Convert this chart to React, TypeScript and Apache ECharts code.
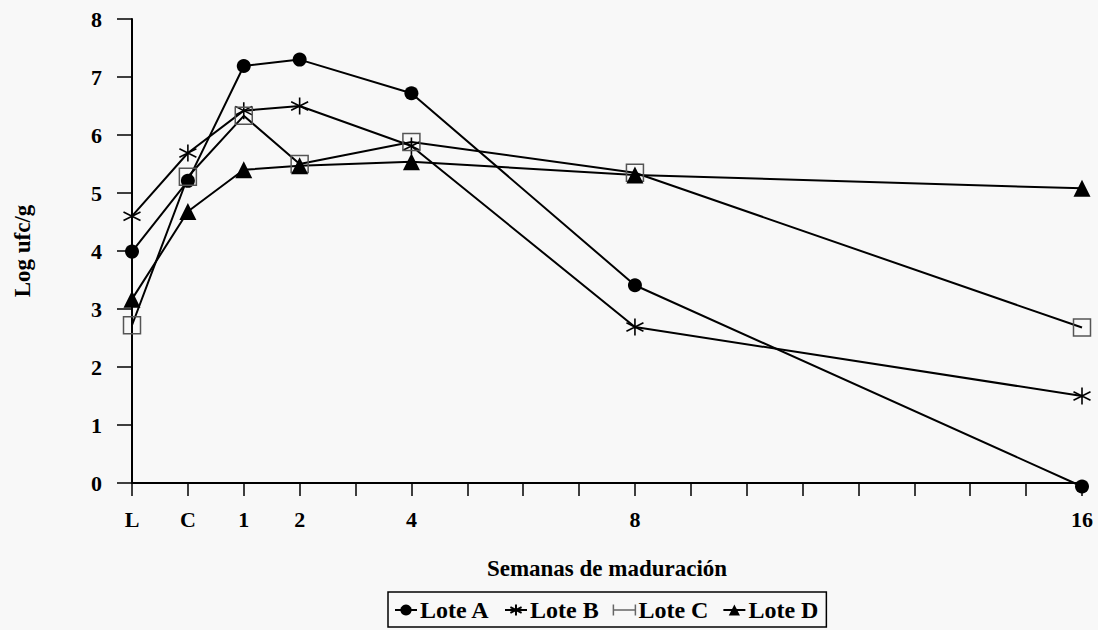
import React, { useEffect, useRef } from "react";
import * as echarts from "echarts";

const weekPositions = [-1, 0, 1, 2, 4, 8, 16];
const weekLabels = ["L", "C", "1", "2", "4", "8", "16"];
const yTicks = [0, 1, 2, 3, 4, 5, 6, 7, 8];

const loteA = [3.99, 5.21, 7.19, 7.3, 6.72, 3.41, -0.06];
const loteB = [4.6, 5.69, 6.42, 6.5, 5.81, 2.69, 1.5];
const loteC = [2.72, 5.28, 6.33, 5.5, 5.88, 5.35, 2.68];
const loteD = [3.17, 4.68, 5.4, 5.47, 5.54, 5.31, 5.08];

const seriesNames = ["Lote A", "Lote B", "Lote C", "Lote D"];

const FONT = "'Liberation Serif', 'Times New Roman', serif";
const ASTERISK = "path://M0,-10 L0,10 M-8.66,-5 L8.66,5 M-8.66,5 L8.66,-5";
const BAR_ICON = "path://M0,0 L0,10 M0,5 L20,5 M20,0 L20,10";

function pairs(vals: number[]) {
  return weekPositions.map((x, i) => [x, vals[i]]);
}

export default function App() {
  const ref = useRef<HTMLDivElement>(null);
  useEffect(() => {
    if (!ref.current) return;
    const chart = echarts.init(ref.current, undefined, { renderer: "svg" });
    const lineStyle = { color: "#000", width: 2 };
    chart.setOption({
      animation: false,
      backgroundColor: "#f8f8f8",
      textStyle: { fontFamily: FONT },
      grid: { left: 132, right: 16, top: 19, bottom: 147, containLabel: false },
      xAxis: {
        type: "value",
        min: -1,
        max: 16,
        interval: 1,
        splitLine: { show: false },
        axisLine: { onZero: false, lineStyle: { color: "#000", width: 2 } },
        axisTick: { show: true, inside: false, length: 13, lineStyle: { color: "#000", width: 1.5 } },
        axisLabel: {
          margin: 25,
          color: "#000",
          fontFamily: FONT,
          fontWeight: "bold",
          fontSize: 22,
          showMinLabel: true,
          showMaxLabel: true,
          formatter: (v: number) => {
            const i = weekPositions.indexOf(v);
            return i >= 0 ? weekLabels[i] : "";
          },
        },
        name: "Semanas de maduración",
        nameLocation: "middle",
        nameGap: 74,
        nameTextStyle: { color: "#000", fontFamily: FONT, fontWeight: "bold", fontSize: 23 },
      },
      yAxis: {
        type: "value",
        min: yTicks[0],
        max: yTicks[yTicks.length - 1],
        interval: 1,
        splitLine: { show: false },
        axisLine: { show: true, onZero: false, lineStyle: { color: "#000", width: 2 } },
        axisTick: { show: true, inside: false, length: 15, lineStyle: { color: "#000", width: 1.5 } },
        axisLabel: { margin: 30, color: "#000", fontFamily: FONT, fontWeight: "bold", fontSize: 22 },
        name: "Log ufc/g",
        nameLocation: "middle",
        nameGap: 98,
        nameTextStyle: { color: "#000", fontFamily: FONT, fontWeight: "bold", fontSize: 23 },
      },
      legend: {
        left: 388,
        top: 592,
        padding: [6, 8, 5, 6],
        borderColor: "#000",
        borderWidth: 1.5,
        itemWidth: 22,
        itemHeight: 14,
        itemGap: 14,
        textStyle: { color: "#000", fontFamily: FONT, fontWeight: "bold", fontSize: 24, padding: [0, 0, 0, -2] },
        data: [
          { name: seriesNames[0] },
          { name: seriesNames[1] },
          { name: seriesNames[2], icon: BAR_ICON, itemStyle: { color: "rgba(0,0,0,0)", borderColor: "#666", borderWidth: 1.5 } },
          { name: seriesNames[3] },
        ],
      },
      series: [
        {
          name: seriesNames[0],
          type: "line",
          data: pairs(loteA),
          symbol: "circle",
          symbolSize: 14,
          clip: false,
          lineStyle,
          itemStyle: { color: "#000" },
        },
        {
          name: seriesNames[1],
          type: "line",
          data: pairs(loteB),
          symbol: ASTERISK,
          symbolSize: 17,
          clip: false,
          lineStyle,
          itemStyle: { color: "rgba(0,0,0,0)", borderColor: "#000", borderWidth: 1.6 },
        },
        {
          name: seriesNames[2],
          type: "line",
          data: pairs(loteC),
          symbol: "rect",
          symbolSize: 17,
          clip: false,
          lineStyle,
          itemStyle: { color: "rgba(0,0,0,0)", borderColor: "#555", borderWidth: 1.5 },
        },
        {
          name: seriesNames[3],
          type: "line",
          data: pairs(loteD),
          symbol: "triangle",
          symbolSize: 17,
          clip: false,
          lineStyle,
          itemStyle: { color: "#000" },
        },
      ],
    });
    return () => chart.dispose();
  }, []);
  return (
    <div
      ref={ref}
      style={{ position: "fixed", left: 0, top: 0, width: 1098, height: 630 }}
    />
  );
}
